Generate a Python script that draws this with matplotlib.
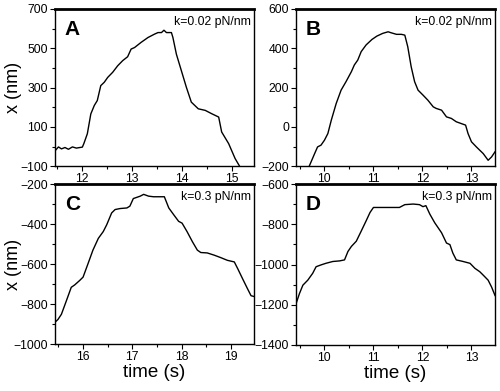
"""Optical-trap position traces, four panels (A-D)."""

import matplotlib
matplotlib.use("Agg")
import matplotlib.pyplot as plt
from matplotlib.ticker import MultipleLocator

plt.rcParams["font.family"] = ["Liberation Sans", "DejaVu Sans"]

# panel A, k = 0.02 pN/nm
time_a = [11.46, 11.52, 11.58, 11.65, 11.72, 11.80, 11.88, 11.95, 12.00, 12.03,
          12.10, 12.17, 12.24, 12.30, 12.37, 12.44, 12.51, 12.61, 12.71, 12.81,
          12.91, 12.98, 13.05, 13.18, 13.32, 13.45, 13.52, 13.59, 13.64, 13.69,
          13.79, 13.82, 13.89, 13.99, 14.09, 14.19, 14.33, 14.47, 14.60, 14.74,
          14.80, 14.94, 15.07, 15.16]
x_a = [-19, -2, -12, -5, -14, -2, -8, -5, -3, 15,
       65, 166, 209, 234, 310, 327, 352, 378, 411, 437,
       457, 496, 504, 530, 555, 572, 580, 580, 592, 580,
       580, 555, 470, 386, 302, 226, 192, 184, 167, 150,
       74, 15, -61, -100]

# panel B, k = 0.02 pN/nm
time_b = [9.69, 9.80, 9.86, 9.93, 10.00, 10.07, 10.14, 10.24, 10.34, 10.44,
          10.55, 10.61, 10.68, 10.75, 10.85, 10.97, 11.07, 11.19, 11.30, 11.36,
          11.47, 11.57, 11.64, 11.70, 11.77, 11.84, 11.91, 12.01, 12.11, 12.22,
          12.28, 12.39, 12.49, 12.59, 12.69, 12.79, 12.88, 12.93, 13.00, 13.10,
          13.24, 13.34, 13.41, 13.48]
x_b = [-200, -136, -102, -93, -68, -34, 34, 119, 187, 230,
       281, 315, 340, 383, 417, 445, 462, 476, 484, 479,
       471, 471, 467, 408, 306, 230, 187, 162, 136, 102,
       94, 85, 51, 43, 26, 17, 9, -34, -76, -102,
       -136, -170, -153, -127]

# panel C, k = 0.3 pN/nm
time_c = [15.42, 15.49, 15.56, 15.66, 15.76, 15.83, 15.93, 16.00, 16.10, 16.20,
          16.31, 16.41, 16.48, 16.58, 16.65, 16.75, 16.89, 16.95, 17.02, 17.16,
          17.23, 17.33, 17.43, 17.57, 17.65, 17.74, 17.84, 17.94, 18.01, 18.11,
          18.22, 18.32, 18.39, 18.52, 18.66, 18.79, 18.93, 19.07, 19.14, 19.24,
          19.34, 19.41, 19.47]
x_c = [-893, -877, -851, -784, -716, -704, -682, -665, -598, -530,
       -471, -437, -403, -344, -327, -322, -319, -310, -272, -260,
       -251, -260, -263, -263, -263, -319, -353, -386, -395, -437,
       -488, -530, -542, -544, -555, -567, -581, -589, -623, -674,
       -724, -758, -762]

# panel D, k = 0.3 pN/nm
time_d = [9.42, 9.49, 9.56, 9.66, 9.76, 9.83, 9.93, 10.03, 10.17, 10.31,
          10.41, 10.48, 10.55, 10.65, 10.75, 10.85, 10.93, 11.00, 11.12, 11.33,
          11.53, 11.64, 11.81, 11.94, 12.01, 12.07, 12.15, 12.25, 12.39, 12.49,
          12.56, 12.62, 12.69, 12.83, 12.97, 13.07, 13.17, 13.24, 13.34, 13.41,
          13.48]
x_d = [-1196, -1145, -1103, -1078, -1044, -1011, -1002, -994, -985, -982,
       -977, -935, -910, -884, -834, -783, -741, -716, -716, -716,
       -716, -702, -699, -702, -712, -707, -749, -792, -842, -893,
       -901, -943, -977, -985, -994, -1019, -1036, -1053, -1078, -1112,
       -1154]

panels = [
    ("A", "k=0.02 pN/nm", time_a, x_a, (11.45, 15.45), (-100, 700), [-100, 100, 300, 500, 700]),
    ("B", "k=0.02 pN/nm", time_b, x_b, (9.42, 13.48), (-200, 600), [-200, 0, 200, 400, 600]),
    ("C", "k=0.3 pN/nm", time_c, x_c, (15.43, 19.47), (-1000, -200), [-1000, -800, -600, -400, -200]),
    ("D", "k=0.3 pN/nm", time_d, x_d, (9.42, 13.48), (-1400, -600), [-1400, -1200, -1000, -800, -600]),
]

rects = [
    [0.110, 0.575, 0.398, 0.402],
    [0.592, 0.575, 0.398, 0.402],
    [0.110, 0.120, 0.398, 0.409],
    [0.592, 0.118, 0.398, 0.411],
]

fig = plt.figure(figsize=(5.0, 3.91), dpi=100)

for (letter, k_text, t, x, xlim, ylim, yticks), rect in zip(panels, rects):
    ax = fig.add_axes(rect)
    ax.plot(t, x, color="black", lw=1.0)
    ax.set_xlim(*xlim)
    ax.set_ylim(*ylim)
    ax.set_yticks(yticks)
    ax.xaxis.set_major_locator(MultipleLocator(1))
    ax.xaxis.set_minor_locator(MultipleLocator(0.5))
    ax.yaxis.set_minor_locator(MultipleLocator(100))
    ax.tick_params(which="major", direction="out", length=3.5, width=0.8,
                   labelsize=8.8, pad=1.5)
    ax.tick_params(which="minor", direction="out", length=2, width=0.8)
    for side in ["left", "bottom", "right"]:
        ax.spines[side].set_linewidth(1.0)
    ax.spines["top"].set_linewidth(2.0)
    ax.text(0.05, 0.93, letter, transform=ax.transAxes, fontsize=15,
            fontweight="bold", va="top", ha="left")
    ax.text(0.985, 0.955, k_text, transform=ax.transAxes, fontsize=8.8,
            va="top", ha="right")
    if letter in ("A", "C"):
        ax.set_ylabel("x (nm)", fontsize=13)
        ax.yaxis.set_label_coords(-0.168, 0.5)
    if letter in ("C", "D"):
        ax.set_xlabel("time (s)", fontsize=13.5, labelpad=1)

fig.savefig("out.png", dpi=100)
